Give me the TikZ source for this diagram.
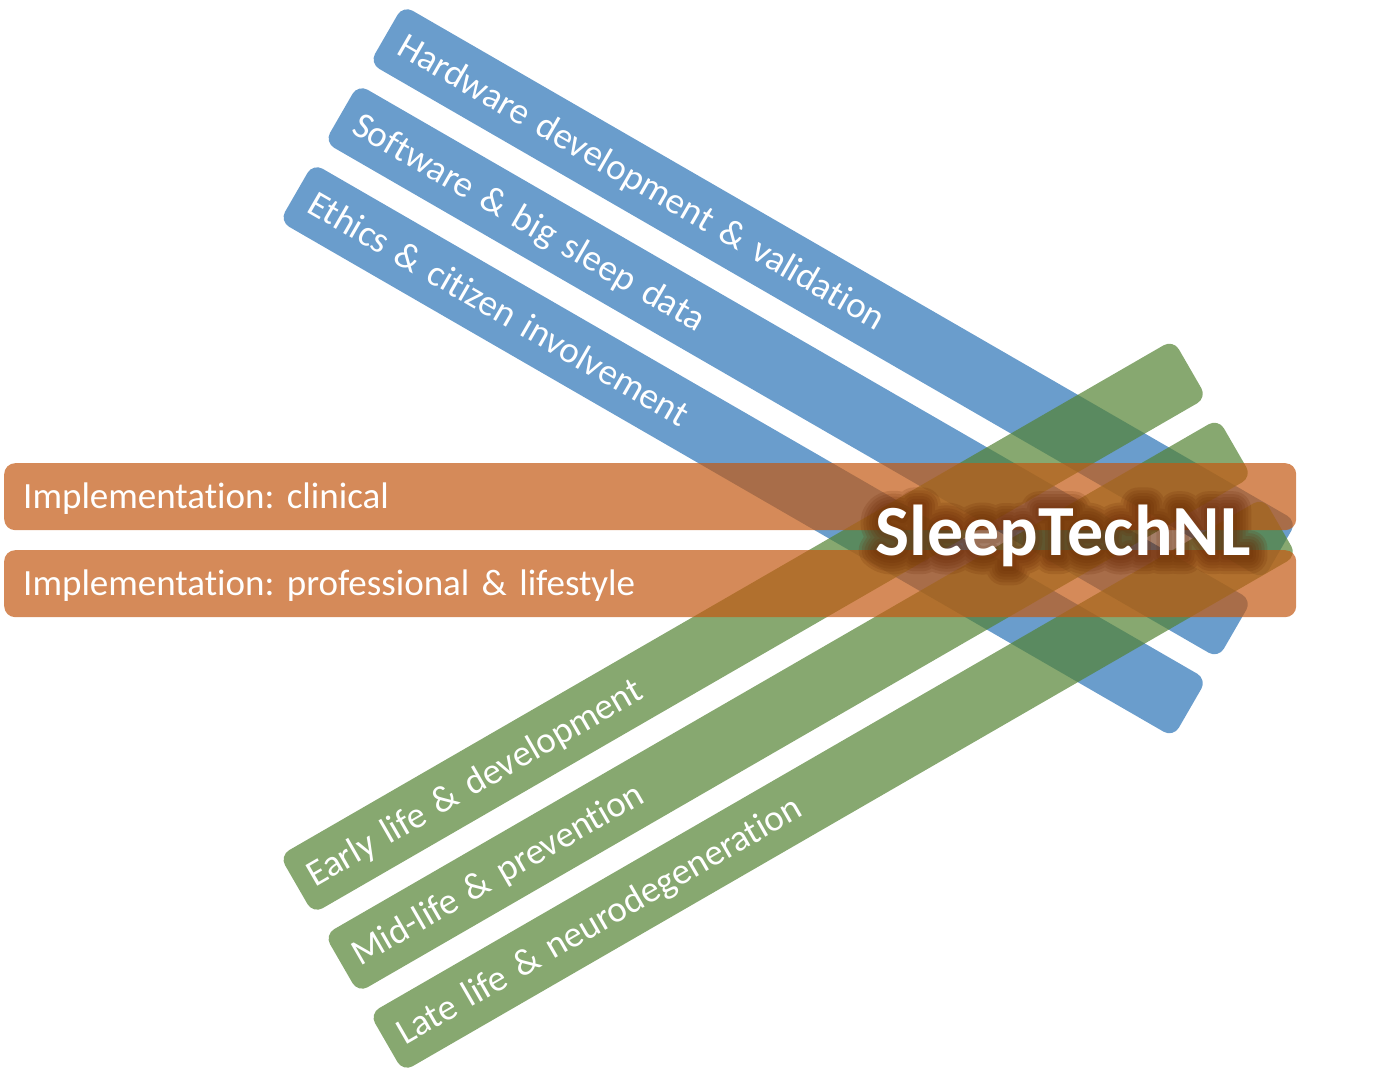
\documentclass[tikz,border=0pt]{standalone}
\usepackage{fontspec}
\setmainfont{Carlito}[Ligatures=CommonOff]
\newfontfamily\glowA{Carlito}[UprightFont=*-Bold, Ligatures=CommonOff, FakeBold=50]
\newfontfamily\glowB{Carlito}[UprightFont=*-Bold, Ligatures=CommonOff, FakeBold=42]
\newfontfamily\glowC{Carlito}[UprightFont=*-Bold, Ligatures=CommonOff, FakeBold=34]
\newfontfamily\glowD{Carlito}[UprightFont=*-Bold, Ligatures=CommonOff, FakeBold=26]
\newfontfamily\glowE{Carlito}[UprightFont=*-Bold, Ligatures=CommonOff, FakeBold=18]
\newfontfamily\glowF{Carlito}[UprightFont=*-Bold, Ligatures=CommonOff, FakeBold=10]
\frenchspacing

\definecolor{barblue}{RGB}{106,157,204}
\definecolor{bargreen}{RGB}{84,131,51}
\definecolor{barorange}{RGB}{195,89,18}
\definecolor{glowbrown}{RGB}{105,42,4}

\tikzset{
  bar/.style={rounded corners=11pt, minimum height=67pt, inner ysep=0pt,
    text=white, align=left, font=\fontsize{37}{44}\selectfont,
    text height=24pt, text depth=0pt},
  bluebar/.style={bar, fill=barblue, rotate=-30, anchor=north west,
    inner xsep=17pt, text width=998pt},
  greenbar/.style={bar, fill=bargreen, fill opacity=0.7, text opacity=1,
    rotate=30, anchor=south west, inner xsep=15pt, text width=1002pt},
  orangebar/.style={bar, fill=barorange, fill opacity=0.7, text opacity=1,
    anchor=north west, inner xsep=19pt, text width=1254pt},
  title/.style={font=\fontsize{72}{80}\selectfont\bfseries, inner sep=0pt,
    text height=46pt, text depth=0pt},
  glow/.style={inner sep=0pt, text height=46pt, text depth=0pt,
    text=glowbrown, line join=round, font=\fontsize{72}{80}\selectfont#1}
}

\begin{document}
\begin{tikzpicture}[x=1pt,y=1pt]

\useasboundingbox (0,0) rectangle (1395,1089);

%%%%%%%%%%%%%%%%%%%%%%%%
% technology
%%%%%%%%%%%%%%%%%%%%%%%%

\node[bluebar] (hardware) at (403,1084) {Hardware development \& validation};
\node[bluebar] (software) at (358,1005) {Software \& big sleep data};
\node[bluebar] (ethics) at (313,926) {Ethics \& citizen involvement};

%%%%%%%%%%%%%%%%%%%%%%%%
% life span
%%%%%%%%%%%%%%%%%%%%%%%%

\node[greenbar] (early) at (313,175) {Early life \& development};
\node[greenbar] (midlife) at (358,96) {Mid-life \& prevention};
\node[greenbar] (late) at (403,17) {Late life \& neurodegeneration};

%%%%%%%%%%%%%%%%%%%%%%%%
% implementation
%%%%%%%%%%%%%%%%%%%%%%%%

\node[orangebar] (clinical) at (4,626) {Implementation: clinical};
\node[orangebar] (professional) at (4,539) {Implementation: professional \& lifestyle};

%%%%%%%%%%%%%%%%%%%%%%%%
% SleepTechNL
%%%%%%%%%%%%%%%%%%%%%%%%

\foreach \f in {A,B,C,D,E,F}{
  \begin{scope}[transparency group, opacity=0.17]
    \node[glow=\csname glow\f\endcsname] (glow-\f) at (1063,556) {SleepTechNL};
  \end{scope}
}

\node[title, text=white] (sleeptech) at (1063,556) {SleepTechNL};

\end{tikzpicture}
\end{document}
